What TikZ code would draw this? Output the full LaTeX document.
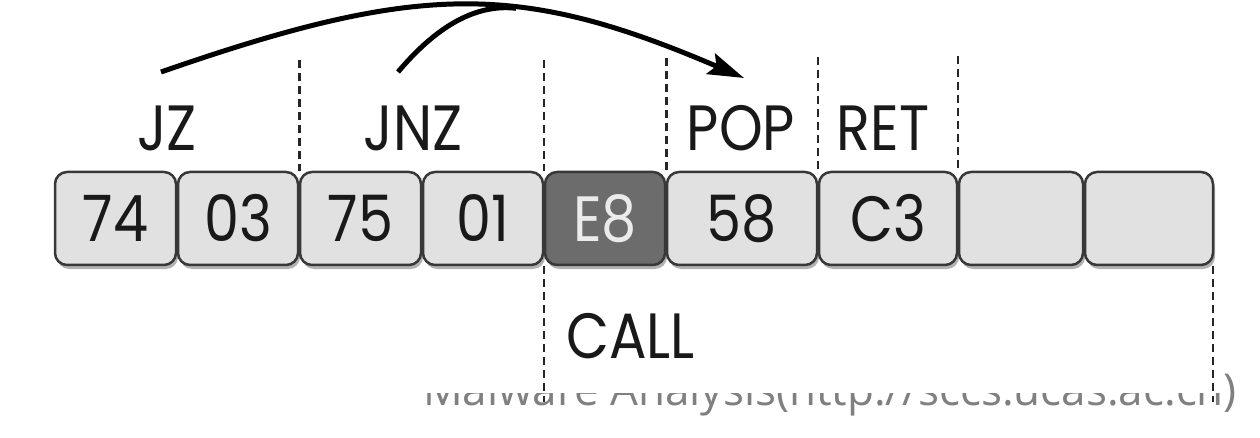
\documentclass[tikz,border=0pt]{standalone}
\usepackage{fontspec}
\setmainfont[FakeStretch=0.87]{Poppins}
\newfontfamily\wmfont{Open Sans}
\usetikzlibrary{arrows.meta}
\definecolor{cellfill}{HTML}{E1E1E1}
\definecolor{celldark}{HTML}{6C6C6C}
\definecolor{cellline}{HTML}{383838}
\definecolor{wmgray}{HTML}{808080}
\begin{document}
\begin{tikzpicture}[x=1pt,y=-1pt,
 cell/.style={draw=cellline, line width=2.5pt, fill=cellfill, rounded corners=12pt,
   minimum height=93pt, inner sep=0pt, font=\fontsize{64}{64}\selectfont, text=black!90,
   preaction={fill=black!30, draw=none, transform canvas={xshift=2pt,yshift=-4pt}}},
 darkcell/.style={cell, fill=celldark, text=white!92!black},
 lbl/.style={font=\fontsize{64}{64}\selectfont, anchor=base, inner sep=0pt, text=black!90},
 sep/.style={dash pattern=on 8pt off 5pt, line width=2.5pt, black!85},
 jump/.style={line width=5pt, -{Stealth[length=36pt,width=22pt,inset=6pt]}},
]
\useasboundingbox (0,0) rectangle (1260,438);

% watermark (only its lower part is visible)
\node[anchor=base west, inner sep=0pt, font=\wmfont\fontsize{44}{44}\selectfont, text=wmgray]
  (wm) at (423,405) {Malware Analysis(http://sccs.ucas.ac.cn)};
\fill[white] (400,362) rectangle (1224,393);

% byte cells
\node[cell, minimum width=121pt] (b1) at (115.5,218.5) {74};
\node[cell, minimum width=120pt] (b2) at (238,218.5) {03};
\node[cell, minimum width=121pt] (b3) at (360.5,218.5) {75};
\node[cell, minimum width=120pt] (b4) at (483,218.5) {01};
\node[darkcell, minimum width=120pt] (b5) at (605,218.5) {E8};
\node[cell, minimum width=150pt] (b6) at (742,218.5) {58};
\node[cell, minimum width=138pt] (b7) at (888,218.5) {C3};
\node[cell, minimum width=124pt] (b8) at (1021,218.5) {};
\node[cell, minimum width=128pt] (b9) at (1149,218.5) {};

% separators
\coordinate (s1) at (299.5,60);
\coordinate (s2) at (544,60);
\coordinate (s3) at (666.5,58);
\coordinate (s4) at (818,57);
\coordinate (s5) at (958,56);
\coordinate (s2b) at (544,402);
\coordinate (s6b) at (1213,402);
\draw[sep] (s1) -- (s1 |- b3.north);
\draw[sep] (s2) -- (s2 |- b5.north);
\draw[sep] (s3) -- (s3 |- b6.north);
\draw[sep] (s4) -- (s4 |- b7.north);
\draw[sep] (s5) -- (s5 |- b8.north);
\draw[sep] (s2 |- b5.south) -- (s2b);
\draw[sep] (s6b |- b9.south) -- (s6b);

% labels
\node[lbl] (jz) at (167,151) {JZ};
\node[lbl] (jnz) at (413,151) {JNZ};
\node[lbl] (pop) at (741,151) {POP};
\node[lbl] (ret) at (883,151) {RET};
\node[lbl, anchor=base west] (call) at (566,358) {CALL};

% jumps
\coordinate (jzs) at (161,72);
\coordinate (jnzs) at (398,72);
\coordinate (merge) at (516,8.3);
\coordinate (popt) at (744,78);
\draw[jump] (jzs) .. controls (420,-18) and (520,-18) .. (popt);
\draw[line width=5pt] (jnzs) .. controls (425,40) and (466,2.5) .. (merge);
\end{tikzpicture}
\end{document}
